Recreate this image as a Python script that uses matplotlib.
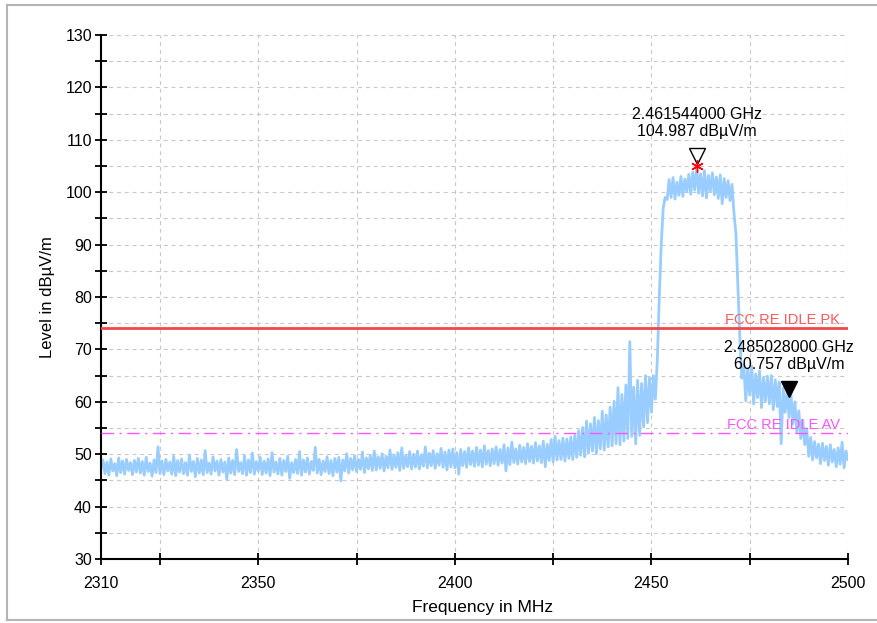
import numpy as np
import matplotlib
matplotlib.use("Agg")
import matplotlib.pyplot as plt
from matplotlib.lines import Line2D

plt.rcParams['font.family'] = ['Liberation Sans', 'DejaVu Sans']

# sweep 2310..2500 MHz, one sample every 0.5 MHz
freq_start = 2310.0
freq_step = 0.5
level = [
    47.2, 48.9, 46.3, 48.5, 46.0, 49.1, 46.8, 48.2, 45.9, 49.3, 46.5, 48.7, 46.2, 49.0, 46.9, 48.4, 46.1, 48.8, 46.6, 49.2,
    46.4, 48.6, 46.0, 49.4, 46.7, 48.3, 45.8, 48.9, 46.5, 51.4, 46.3, 48.7, 46.1, 49.0, 46.8, 48.5, 46.2, 49.6, 45.9, 48.8,
    46.6, 49.1, 46.3, 48.4, 46.0, 49.8, 46.7, 48.6, 45.7, 49.2, 46.4, 48.9, 46.1, 50.7, 46.5, 48.3, 46.2, 49.5, 46.8, 48.7,
    46.0, 49.0, 46.6, 48.5, 45.2, 49.3, 46.4, 48.8, 46.1, 50.9, 46.7, 48.4, 46.3, 49.7, 46.0, 48.9, 46.5, 50.2, 46.2, 48.6,
    46.8, 49.4, 46.1, 48.7, 46.4, 49.1, 45.9, 50.3, 46.6, 48.5, 46.2, 49.2, 46.0, 48.8, 46.7, 49.6, 45.4, 48.4, 46.5, 49.0,
    46.3, 50.5, 46.0, 48.9, 46.6, 49.3, 46.2, 48.6, 46.9, 51.3, 46.4, 49.0, 46.1, 48.7, 46.7, 49.5, 46.3, 48.8, 45.9, 49.2,
    46.6, 49.4, 44.9, 48.9, 46.8, 50.1, 46.4, 49.2, 47.0, 49.7, 46.7, 49.0, 47.1, 50.4, 46.5, 49.3, 47.2, 49.8, 46.9, 50.6,
    47.0, 49.5, 47.3, 50.1, 46.8, 49.6, 47.4, 50.8, 47.1, 49.9, 47.5, 50.3, 46.9, 51.2, 47.3, 49.7, 47.6, 50.5, 47.2, 50.0,
    47.5, 50.6, 47.2, 49.9, 47.7, 51.4, 47.4, 50.2, 47.8, 50.7, 47.3, 50.1, 47.9, 51.1, 47.5, 50.4, 47.0, 50.8, 47.6, 51.0,
    47.4, 50.3, 46.2, 50.9, 47.8, 50.5, 47.5, 51.2, 48.0, 50.6, 47.7, 51.3, 47.9, 50.8, 47.6, 51.6, 48.1, 50.7, 47.8, 51.0,
    48.2, 51.4, 47.9, 50.9, 48.3, 51.8, 46.8, 51.2, 48.0, 52.3, 48.4, 51.0, 48.1, 51.7, 48.5, 51.3, 48.2, 52.0, 48.6, 51.5,
    48.3, 52.2, 48.7, 51.6, 48.4, 52.5, 47.6, 51.9, 48.8, 52.8, 48.5, 53.4, 48.9, 52.6, 49.0, 53.1, 48.7, 52.9, 49.2, 53.3,
    49.0, 53.6, 49.4, 54.5, 49.8, 55.1, 49.5, 56.3, 50.2, 55.8, 50.6, 57.0, 50.1, 56.4, 51.0, 58.2, 50.8, 57.5, 51.4, 59.0,
    51.6, 60.1, 52.0, 62.7, 51.8, 61.4, 52.5, 63.2, 53.0, 71.5, 53.4, 62.8, 52.0, 64.1, 53.6, 63.5, 55.2, 65.0, 56.0, 64.6,
    58.0, 65.0, 60.5, 68.0, 80.0, 90.0, 97.0, 99.0, 98.6, 102.4, 99.0, 102.8, 98.7, 101.9, 99.4, 103.0, 99.2, 102.5, 100.1, 103.4,
    99.6, 103.8, 100.4, 104.987, 99.8, 103.5, 99.3, 104.1, 98.9, 103.2, 100.2, 103.7, 99.5, 102.9, 98.8, 103.3, 97.8, 102.6, 99.0, 102.2,
    98.4, 101.5, 96.0, 92.0, 82.0, 72.0, 64.5, 67.0, 60.2, 66.4, 61.3, 66.8, 59.6, 65.3, 60.8, 65.9, 58.9, 64.6, 60.1, 64.9,
    59.6, 65.0, 58.5, 64.2, 59.1, 63.8, 52.0, 62.6, 58.0, 62.0, 57.0, 61.4, 55.8, 60.0, 54.2, 58.3, 53.0, 56.5, 51.8, 54.9,
    49.6, 53.2, 48.9, 52.4, 49.3, 51.9, 48.2, 52.1, 48.8, 51.5, 47.9, 51.8, 48.5, 50.9, 47.6, 51.2, 48.1, 52.3, 47.4, 50.6,
    49.0,
]

limit_pk = 74.0
limit_av = 54.0
limit_names = ["FCC RE IDLE PK", "FCC RE IDLE AV"]

marker_freq = [2461.544, 2485.028]
marker_level = [104.987, 60.757]

xtick_vals = [2310, 2325, 2350, 2375, 2400, 2425, 2450, 2475, 2500]
xtick_text = ["2310", "", "2350", "", "2400", "", "2450", "", "2500"]
ytick_vals = list(range(30, 131, 5))

freq = freq_start + freq_step * np.arange(len(level))

fig = plt.figure(figsize=(8.77, 6.23), dpi=100)
ax = fig.add_axes([101 / 877, 64 / 623, 747 / 877, 524 / 623])

ax.plot(freq, level, color="#99ccff", lw=2.0, zorder=2)

ax.axhline(limit_pk, color="#f04848", lw=2.0, zorder=3)
ax.axhline(limit_av, color="#ff55ff", lw=1.0, ls=(0, (9, 4, 1.5, 4)), zorder=3)
ax.text(2498, limit_pk + 0.2, limit_names[0], color="#ff5a5a", fontsize=10.5,
        ha="right", va="bottom", zorder=4)
ax.text(2498, limit_av + 0.2, limit_names[1], color="#ff55ff", fontsize=10.5,
        ha="right", va="bottom", zorder=4)

# marker 1: open triangle above the peak, red star on the trace
ax.plot(marker_freq[0], marker_level[0] + 2.0, marker="v", ms=12, mfc="none",
        mec="black", mew=1.0, zorder=5, clip_on=False)
ax.plot(marker_freq[0], marker_level[0], marker=(6, 2, 0), ms=9, color="red",
        mew=1.0, zorder=5)
ax.text(marker_freq[0], marker_level[0] + 5.2,
        "%.9f GHz\n%.3f dB\u00b5V/m" % (marker_freq[0] / 1000, marker_level[0]),
        ha="center", va="bottom", fontsize=11.5, linespacing=1.15, zorder=5)

# marker 2: filled triangle
ax.plot(marker_freq[1], marker_level[1] + 1.6, marker="v", ms=12, color="black",
        zorder=5)
ax.text(marker_freq[1], marker_level[1] + 5.0,
        "%.9f GHz\n%.3f dB\u00b5V/m" % (marker_freq[1] / 1000, marker_level[1]),
        ha="center", va="bottom", fontsize=11.5, linespacing=1.15, zorder=5)

ax.set_xlim(2310, 2500)
ax.set_ylim(30, 130)
ax.set_xticks(xtick_vals)
ax.set_xticklabels(xtick_text)
ax.set_yticks(ytick_vals)
ax.set_yticklabels([str(v) if v % 10 == 0 else "" for v in ytick_vals])
ax.tick_params(direction="inout", length=9, width=1.3, labelsize=11.5, pad=2)
ax.tick_params(axis="x", pad=8)

ax.grid(True, color="#c8c8c8", ls=(0, (3.5, 3.5)), lw=0.8)
ax.set_axisbelow(True)
for s in ["top", "right"]:
    ax.spines[s].set_visible(False)
for s in ["left", "bottom"]:
    ax.spines[s].set_linewidth(1.5)

ax.set_xlabel("Frequency in MHz", fontsize=12.5)
ax.xaxis.set_label_coords((483 - 101) / 747, -0.078)
ax.xaxis.label.set_va("top")
ax.set_ylabel("Level in dB\u00b5V/m", fontsize=12)
ax.yaxis.set_label_coords((55 - 101) / 747, 0.5)

# light grey frame around the chart
frame_kw = dict(color="#b4b4b4", lw=1.5, transform=fig.transFigure)
fig.add_artist(Line2D([7 / 877, 1.0], [1 - 5 / 623, 1 - 5 / 623], **frame_kw))
fig.add_artist(Line2D([7 / 877, 7 / 877], [1 - 5 / 623, 3 / 623], **frame_kw))
fig.add_artist(Line2D([7 / 877, 1.0], [3 / 623, 3 / 623], **frame_kw))

fig.savefig("out.png", dpi=100)
